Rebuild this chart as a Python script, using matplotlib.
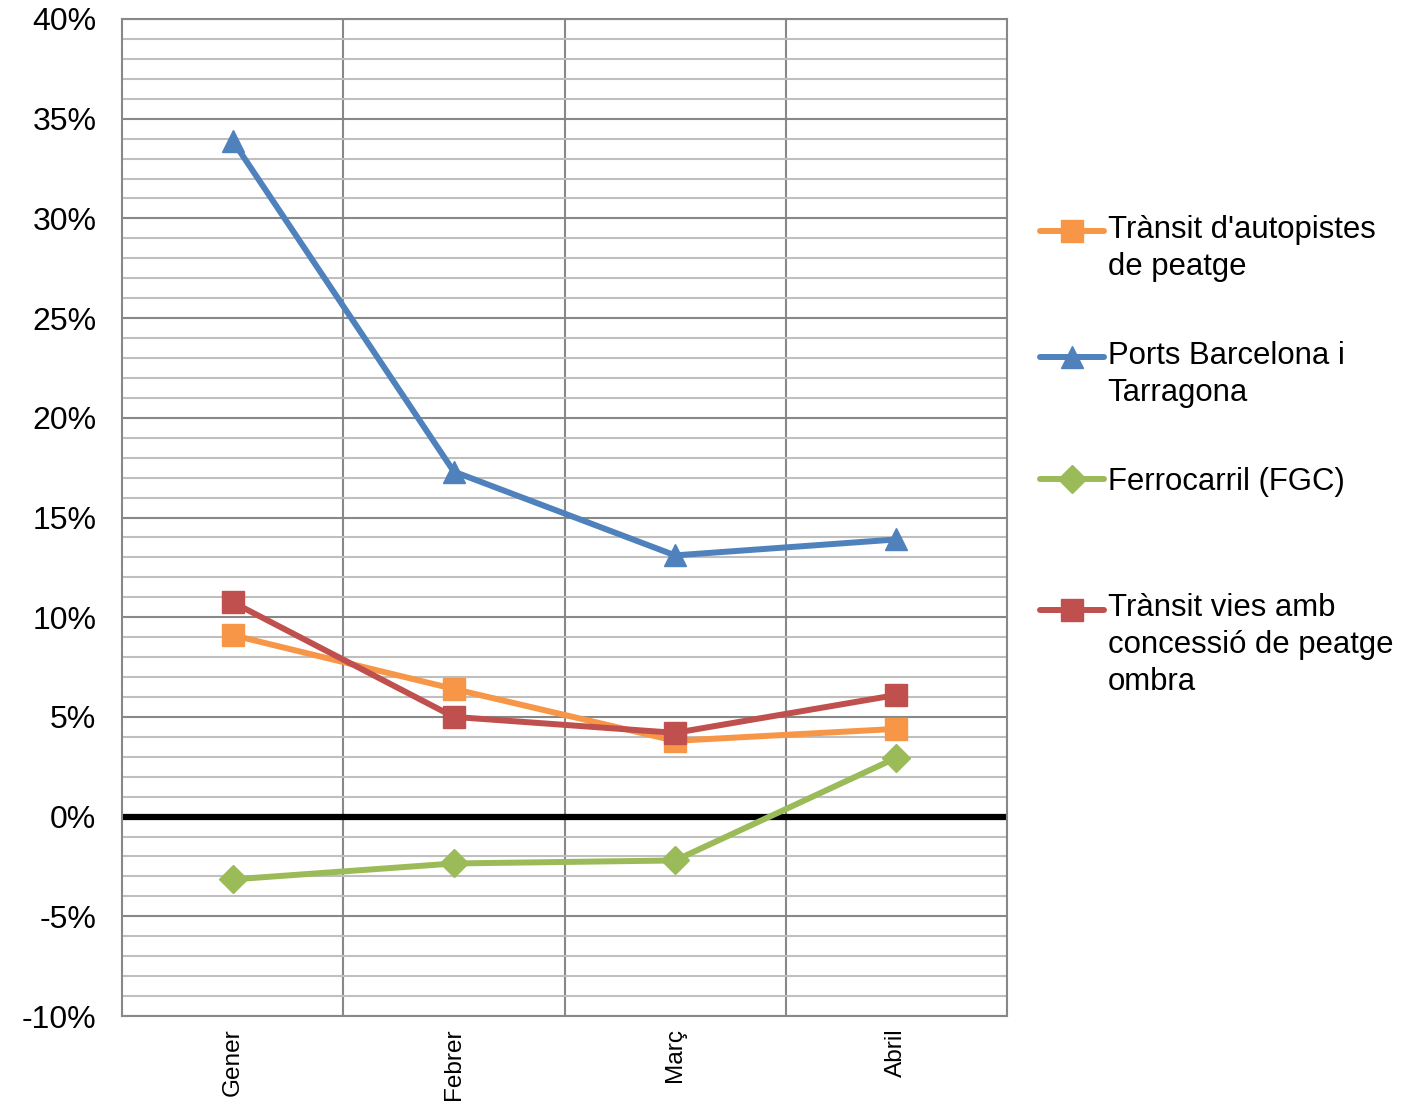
import matplotlib
matplotlib.use("Agg")
import matplotlib.pyplot as plt
import matplotlib.transforms as mtransforms
from matplotlib.legend_handler import HandlerLine2D
from matplotlib.ticker import MultipleLocator, FixedLocator

plt.rcParams["font.family"] = ["Liberation Sans", "DejaVu Sans"]

# --- data (percent change vs same month previous year) ---
months = ["Gener", "Febrer", "Març", "Abril"]
autopistes = [9.1, 6.4, 3.8, 4.4]
ports = [33.9, 17.3, 13.1, 13.9]
fgc = [-3.15, -2.35, -2.2, 2.95]
ombra = [10.75, 5.0, 4.2, 6.1]

labels = [
    "Trànsit d'autopistes\nde peatge",
    "Ports Barcelona i\nTarragona",
    "Ferrocarril (FGC)",
    "Trànsit vies amb\nconcessió de peatge\nombra",
]
colors = ["#F79646", "#4F81BD", "#9BBB59", "#C0504D"]
markers = ["s", "^", "D", "s"]
msizes = [16, 16, 14, 16]

GRID_MAJOR = "#888888"
GRID_MINOR = "#BFBFBF"

fig = plt.figure(figsize=(14.2, 11.03), dpi=100)
ax = fig.add_axes([122 / 1420, 1 - 1016 / 1103, (1007 - 122) / 1420, (1016 - 19) / 1103])

x = [i + 0.5 for i in range(len(months))]

# grid
ax.set_ylim(-10, 40)
ax.set_xlim(0, len(months))
ax.yaxis.set_major_locator(MultipleLocator(5))
ax.yaxis.set_minor_locator(MultipleLocator(1))
ax.grid(True, axis="y", which="minor", color=GRID_MINOR, lw=1.5, zorder=0)
ax.grid(True, axis="y", which="major", color=GRID_MAJOR, lw=1.5, zorder=0)
for b in range(1, len(months)):
    ax.axvline(b, color=GRID_MAJOR, lw=1.5, zorder=0)
ax.axhline(0, color="black", lw=4.5, zorder=1)
ax.set_axisbelow(True)

series = [autopistes, ports, fgc, ombra]
lines = []
for vals, c, m, ms in zip(series, colors, markers, msizes):
    (ln,) = ax.plot(x, vals, color=c, lw=4.3, marker=m, markersize=ms,
                    markeredgecolor=c, markeredgewidth=1.0,
                    solid_capstyle="round", zorder=3)
    lines.append(ln)

# ticks
yt = list(range(-10, 41, 5))
ax.set_yticks(yt)
ax.set_yticklabels([f"{v}%" for v in yt], fontsize=23)
ax.xaxis.set_major_locator(FixedLocator(x))
ax.set_xticklabels(months, rotation=90, fontsize=17.6, va="top")
ax.tick_params(axis="y", which="both", length=0, pad=18.5)
ax.tick_params(axis="x", which="both", length=0, pad=9)

for s in ax.spines.values():
    s.set_color(GRID_MAJOR)
    s.set_linewidth(1.5)


# legend: handle aligned with first text line, like the original
class FirstLineHandler(HandlerLine2D):
    def __init__(self, shift, **kw):
        super().__init__(**kw)
        self.shift = shift

    def create_artists(self, legend, orig_handle, xdescent, ydescent,
                       width, height, fontsize, trans):
        arts = super().create_artists(legend, orig_handle, xdescent, ydescent,
                                      width, height, fontsize, trans)
        for a in arts:
            a.set_transform(mtransforms.Affine2D().translate(0, self.shift) + trans)
        return arts


leg_fs = 22.4
line_sp = 1.3
top = 1 - 215 / 1103
step = 126 / 1103
for i, (ln, lab) in enumerate(zip(lines, labels)):
    n = lab.count("\n")
    shift = n * 0.5 * 36 / 1.389
    leg = fig.legend(handles=[ln], labels=[lab], loc="upper left",
                     bbox_to_anchor=(1040 / 1420, top - i * step),
                     frameon=False, fontsize=leg_fs, borderpad=0, borderaxespad=0,
                     handlelength=2.05, handletextpad=0.12,
                     handler_map={ln: FirstLineHandler(shift, numpoints=1)})
    for t in leg.get_texts():
        t.set_linespacing(line_sp)

fig.savefig("out.png", dpi=100)
